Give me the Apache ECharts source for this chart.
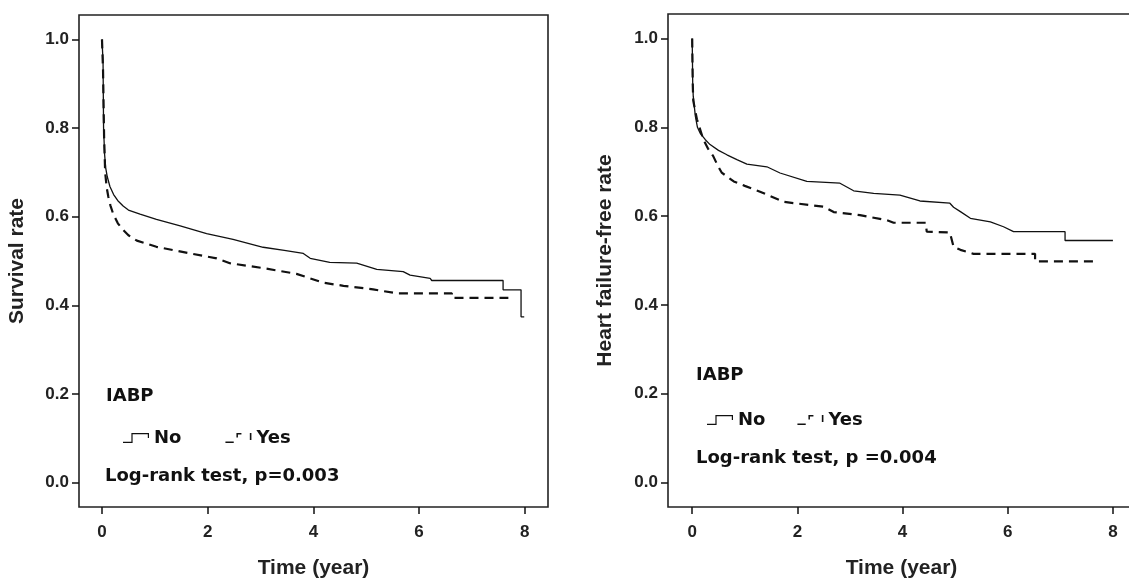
<!DOCTYPE html>
<html>
<head>
<meta charset="utf-8">
<script src="https://cdn.jsdelivr.net/npm/echarts@6/dist/echarts.min.js"></script>
<style>html,body{margin:0;padding:0;background:#fff}#c{width:1129px;height:579px}</style>
</head>
<body>
<div id="c"></div>
<script>
// ---- data ----
const xTicks = [0, 2, 4, 6, 8];
const yTicks = [0, 0.2, 0.4, 0.6, 0.8, 1.0];
const groups = ['No', 'Yes'];

// Left panel: Survival rate (time in years, rate)
const survNoT  = [0, 0.02, 0.03, 0.05, 0.07, 0.1, 0.15, 0.22, 0.3, 0.4, 0.5, 0.72, 1.03, 1.48, 1.98, 2.48, 3.05, 3.45, 3.81, 3.94, 4.31, 4.82, 5.2, 5.7, 5.83, 6.21, 6.24, 7.59, 7.59, 7.93, 7.93, 7.99];
const survNoV  = [1.0, 0.95, 0.80, 0.74, 0.71, 0.69, 0.668, 0.65, 0.636, 0.624, 0.615, 0.606, 0.594, 0.579, 0.562, 0.549, 0.531, 0.524, 0.517, 0.506, 0.497, 0.495, 0.481, 0.476, 0.468, 0.461, 0.456, 0.456, 0.435, 0.435, 0.374, 0.374];
const survYesT = [0, 0.02, 0.04, 0.06, 0.09, 0.12, 0.16, 0.21, 0.3, 0.4, 0.5, 0.66, 1.03, 1.67, 2.17, 2.42, 3.05, 3.68, 4.19, 4.57, 5.13, 5.58, 6.62, 6.62, 7.69];
const survYesV = [1.0, 0.93, 0.78, 0.70, 0.665, 0.645, 0.625, 0.607, 0.585, 0.57, 0.558, 0.546, 0.532, 0.517, 0.506, 0.495, 0.484, 0.471, 0.451, 0.444, 0.436, 0.427, 0.427, 0.417, 0.417];

// Right panel: Heart failure-free rate
const hfNoT  = [0, 0.01, 0.02, 0.06, 0.1, 0.15, 0.25, 0.34, 0.5, 0.66, 0.85, 1.04, 1.42, 1.67, 2.18, 2.81, 3.07, 3.45, 3.95, 4.33, 4.9, 4.97, 5.10, 5.29, 5.67, 5.92, 6.11, 7.09, 7.09, 8.0];
const hfNoV  = [1.0, 0.9, 0.87, 0.825, 0.80, 0.787, 0.772, 0.761, 0.748, 0.738, 0.727, 0.717, 0.711, 0.697, 0.678, 0.674, 0.657, 0.651, 0.647, 0.634, 0.629, 0.62, 0.61, 0.595, 0.587, 0.576, 0.565, 0.565, 0.545, 0.545];
const hfYesT = [0, 0.01, 0.02, 0.09, 0.21, 0.30, 0.40, 0.48, 0.56, 0.79, 1.0, 1.29, 1.74, 2.50, 2.69, 3.19, 3.70, 3.83, 4.44, 4.46, 4.90, 4.97, 5.10, 5.35, 6.52, 6.52, 7.66];
const hfYesV = [1.0, 0.9, 0.86, 0.818, 0.773, 0.752, 0.735, 0.715, 0.698, 0.678, 0.668, 0.655, 0.632, 0.621, 0.609, 0.602, 0.591, 0.585, 0.585, 0.565, 0.563, 0.531, 0.524, 0.515, 0.515, 0.498, 0.498];

const yNames = ['Survival rate', 'Heart failure-free rate'];
const xName = 'Time (year)';
const groupTitle = 'IABP';
const tests = ['Log-rank test, p=0.003', 'Log-rank test, p =0.004'];

// ---- chart ----
const pairs = (t, v) => t.map((x, i) => [x, v[i]]);
const INK = '#111';
const tickFont = {fontFamily: 'Liberation Sans, Arial, sans-serif', fontWeight: 'bold', fontSize: 17, color: '#222'};
const annFont = {fontFamily: 'DejaVu Sans, sans-serif', fontWeight: 'bold', fontSize: 18, color: '#111'};
const nameFont = {fontFamily: 'Liberation Sans, Arial, sans-serif', fontWeight: 'bold', fontSize: 21, color: '#222'};

const iconNo  = 'path://M0,8.8H9.6V10H0Z M8.4,0H9.6V10H8.4Z M8.4,0H26V1.2H8.4Z M24.8,0H26V5H24.8Z';
const iconYes = 'path://M0,8.6H8.3V10H0Z M11,0H16V1.6H11Z M11,0H12.5V4.5H11Z M24.4,0H26V7H24.4Z';

function xAxis(gi, min, max) {
  return {
    type: 'value', gridIndex: gi, min: min, max: max,
    name: xName, nameLocation: 'middle', nameGap: 51, nameTextStyle: nameFont,
    axisLine: {show: false, onZero: false},
    axisTick: {show: true, inside: false, length: 7, customValues: xTicks, lineStyle: {color: INK, width: 1.5}},
    axisLabel: Object.assign({customValues: xTicks, margin: 17, formatter: v => String(v)}, tickFont),
    splitLine: {show: false}
  };
}
function yAxis(gi, gap) {
  return {
    type: 'value', gridIndex: gi, min: -0.055, max: 1.055,
    name: yNames[gi], nameLocation: 'middle', nameGap: gap, nameTextStyle: nameFont,
    axisLine: {show: false, onZero: false},
    axisTick: {show: true, inside: false, length: 7, customValues: yTicks, lineStyle: {color: INK, width: 1.5}},
    axisLabel: Object.assign({customValues: yTicks, margin: 10, formatter: v => v.toFixed(1)}, tickFont),
    splitLine: {show: false}
  };
}
function km(name, gi, t, v, dashed) {
  return {
    type: 'line', name: name, xAxisIndex: gi, yAxisIndex: gi,
    showSymbol: false, symbol: 'none', silent: true,
    data: pairs(t, v),
    itemStyle: {color: INK},
    lineStyle: dashed ? {color: INK, width: 2.2, type: [9, 6]} : {color: INK, width: 1.3}
  };
}
function legend(left, top, gap) {
  return {
    left: left, top: top, orient: 'horizontal', itemGap: gap, itemWidth: 26, itemHeight: 10,
    symbolKeepAspect: false, selectedMode: false, padding: 0,
    itemStyle: {borderWidth: 0}, lineStyle: {width: 0},
    textStyle: annFont,
    data: [{name: groups[0], icon: iconNo}, {name: groups[1], icon: iconYes}]
  };
}

const chart = echarts.init(document.getElementById('c'), null, {renderer: 'canvas'});
chart.setOption({
  animation: false,
  backgroundColor: '#fff',
  grid: [
    {left: 79, top: 15, width: 469, height: 492, outerBoundsMode: 'none', containLabel: false, show: true, borderColor: '#222', borderWidth: 1.6, backgroundColor: 'transparent'},
    {left: 668, top: 14, width: 467, height: 493, outerBoundsMode: 'none', containLabel: false, show: true, borderColor: '#222', borderWidth: 1.6, backgroundColor: 'transparent'}
  ],
  xAxis: [xAxis(0, -0.435, 8.44), xAxis(1, -0.46, 8.42)],
  yAxis: [yAxis(0, 51), yAxis(1, 52)],
  title: [
    {text: groupTitle, left: 106, top: 387, padding: 0, textStyle: annFont},
    {text: tests[0], left: 105, top: 467, padding: 0, textStyle: annFont},
    {text: groupTitle, left: 696, top: 366, padding: 0, textStyle: annFont},
    {text: tests[1], left: 696, top: 449, padding: 0, textStyle: annFont}
  ],
  legend: [legend(123, 429, 44), legend(707, 411, 32)],
  series: [
    km(groups[0], 0, survNoT, survNoV, false),
    km(groups[1], 0, survYesT, survYesV, true),
    km(groups[0], 1, hfNoT, hfNoV, false),
    km(groups[1], 1, hfYesT, hfYesV, true)
  ]
});
</script>
</body>
</html>
